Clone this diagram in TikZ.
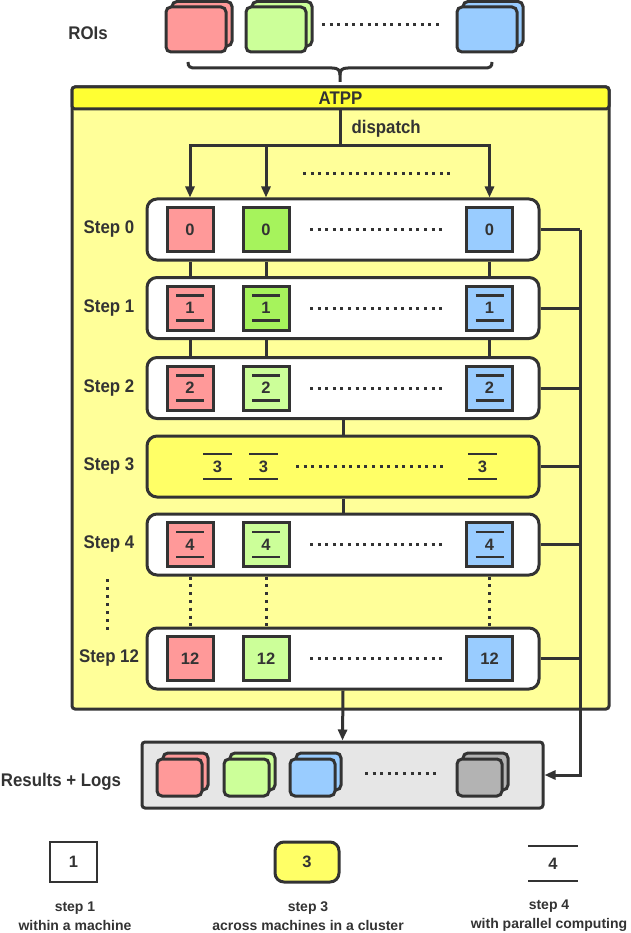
\documentclass[tikz,border=0pt]{standalone}
\usepackage{fontspec}
\setmainfont{Liberation Sans}
\newfontfamily\lblfont{Liberation Sans}[FakeStretch=0.92]
\usetikzlibrary{arrows.meta}
\definecolor{dk}{HTML}{333333}
\definecolor{bodyY}{HTML}{FFFF99}
\definecolor{headY}{HTML}{FFFF33}
\definecolor{sthreeY}{HTML}{FFFF66}
\definecolor{rd}{HTML}{FF9999}
\definecolor{gnA}{HTML}{A6F35C}
\definecolor{gn}{HTML}{CCFF99}
\definecolor{bl}{HTML}{99CCFF}
\definecolor{gy}{HTML}{B3B3B3}
\definecolor{resbg}{HTML}{E6E6E6}
\begin{document}
\begin{tikzpicture}[x=1pt,y=-1pt,
 lbl/.style={font=\lblfont\fontsize{18.3}{20}\selectfont\bfseries, text=dk},
 num/.style={font=\fontsize{16.5}{18}\selectfont\bfseries, text=dk},
 leg/.style={font=\fontsize{14}{19}\selectfont\bfseries, text=dk, align=center},
 stepbox/.style={draw=dk, line width=3, rounded corners=10, fill=white, minimum width=392, minimum height=61, inner sep=0},
 item/.style={draw=dk, line width=3, minimum width=46, minimum height=44, inner sep=0, num},
 conn/.style={draw=dk, line width=3},
 arr/.style={conn, -{Triangle[length=11pt,width=9pt]}},
 dotsl/.style={draw=dk, line width=3, dash pattern=on 3pt off 4.6pt},
 bar/.style={draw=dk, line width=2.6},
 sheet/.style={draw=dk, line width=3, rounded corners=5},
]
\useasboundingbox (0,0) rectangle (630,933);
\fill[white] (0,0) rectangle (630,933);

% ROIs
\node[lbl] (roislbl) at (88,33) {ROIs};
\draw[sheet, fill=rd] (172,1.5) rectangle (232,46);
\draw[sheet, fill=rd] (166,7) rectangle (226,52);
\draw[sheet, fill=gn] (252,1.5) rectangle (312,46);
\draw[sheet, fill=gn] (246,7) rectangle (306,52);
\draw[sheet, fill=bl] (463,1.5) rectangle (523,46);
\draw[sheet, fill=bl] (457,7) rectangle (517,52);
\draw[dotsl] (322,25) -- (442,25);
% brace
\draw[dk, line width=3] (188,62) .. controls (188,67) and (190,68) .. (196,68) -- (332,68) .. controls (338,68) and (340,70) .. (340,75) -- (340,82);
\draw[dk, line width=3] (492,62) .. controls (492,67) and (490,68) .. (484,68) -- (348,68) .. controls (342,68) and (340,70) .. (340,75);

% ATPP
\node[draw=dk, fill=bodyY, line width=3, rounded corners=3, minimum width=537, minimum height=622, inner sep=0] (atpp) at (340.5,398) {};
\node[draw=dk, fill=headY, line width=3, rounded corners=3, minimum width=537, minimum height=22, inner sep=0, lbl] (hdr) at (340.5,98) {ATPP};
\node[lbl, anchor=west] (disp) at (348,128.5) {dispatch};

% step boxes
\node[stepbox] (s0) at (343,229.5) {};
\node[stepbox] (s1) at (343,308) {};
\node[stepbox] (s2) at (343,388) {};
\node[stepbox, fill=sthreeY] (s3) at (343,466.5) {};
\node[stepbox] (s4) at (343,544.5) {};
\node[stepbox] (s12) at (343,658.5) {};

\node[lbl] (l0) at (109,229.5) {Step 0};
\node[lbl] (l1) at (109,308) {Step 1};
\node[lbl] (l2) at (109,388) {Step 2};
\node[lbl] (l3) at (109,466.5) {Step 3};
\node[lbl] (l4) at (109,544.5) {Step 4};
\node[lbl] (l12) at (109,658.5) {Step 12};
\draw[dotsl, dash pattern=on 3pt off 5pt] (107,579) -- (107,632);

% items
\node[item, fill=rd] (r0) at (190,229.5) {0};
\node[item, fill=gnA] (g0) at (266,229.5) {0};
\node[item, fill=bl] (b0) at (489.5,229.5) {0};
\node[item, fill=rd] (r1) at (190,308) {1};
\node[item, fill=gnA] (g1) at (266,308) {1};
\node[item, fill=bl] (b1) at (489.5,308) {1};
\node[item, fill=rd] (r2) at (190,388) {2};
\node[item, fill=gn] (g2) at (266,388) {2};
\node[item, fill=bl] (b2) at (489.5,388) {2};
\node[num] (t1) at (217.5,466.5) {3};
\node[num] (t2) at (263.5,466.5) {3};
\node[num] (t3) at (482.5,466.5) {3};
\node[item, fill=rd] (r4) at (190,544.5) {4};
\node[item, fill=gn] (g4) at (266,544.5) {4};
\node[item, fill=bl] (b4) at (489.5,544.5) {4};
\node[item, fill=rd] (r12) at (190,658.5) {12};
\node[item, fill=gn] (g12) at (266,658.5) {12};
\node[item, fill=bl] (b12) at (489.5,658.5) {12};

\foreach \n in {r1,g1,b1,r2,g2,b2,r4,g4,b4}{
  \draw[bar] ([xshift=-14pt,yshift=12.5pt]\n.center) -- ++(28,0);
  \draw[bar] ([xshift=-14pt,yshift=-12.5pt]\n.center) -- ++(28,0);
}
\foreach \n in {t1,t2,t3}{
  \draw[bar] ([xshift=-14.5pt,yshift=12.5pt]\n.center) -- ++(29,0);
  \draw[bar] ([xshift=-14.5pt,yshift=-12.5pt]\n.center) -- ++(29,0);
}

% dots inside rows
\draw[dotsl] (310,229.5) -- (442,229.5);
\draw[dotsl] (310,308) -- (442,308);
\draw[dotsl] (310,388) -- (442,388);
\draw[dotsl] (296,466.5) -- (444,466.5);
\draw[dotsl] (310,544.5) -- (442,544.5);
\draw[dotsl] (310,658.5) -- (442,658.5);
\draw[dotsl] (303,174) -- (450,174);

% dispatch
\coordinate (dsp) at (340.5,146);
\draw[conn] (hdr.south) -- (dsp);
\draw[arr] (dsp) -| (s0.north -| r0);
\draw[arr] (dsp) -| (s0.north -| g0);
\draw[arr] (dsp) -| (s0.north -| b0);

% step connectors
\foreach \a in {r0,g0,b0}{\draw[conn] (s0.south -| \a) -- (s1.north -| \a);}
\foreach \a in {r1,g1,b1}{\draw[conn] (s1.south -| \a) -- (s2.north -| \a);}
\draw[conn] (s2.south) -- (s3.north);
\draw[conn] (s3.south) -- (s4.north);
\foreach \a in {r4,g4,b4}{\draw[dotsl, dash pattern=on 3pt off 4.8pt] (s4.south -| \a) -- (s12.north -| \a);}

% results
\node[draw=dk, fill=resbg, line width=3, rounded corners=3, minimum width=401, minimum height=66, inner sep=0] (res) at (342.5,775) {};
\node[lbl] (reslbl) at (61,782) {Results + Logs};
\draw[sheet, fill=rd] (163,753) rectangle (208,790);
\draw[sheet, fill=rd] (157,759) rectangle (202,796);
\draw[sheet, fill=gn] (230,753) rectangle (275,790);
\draw[sheet, fill=gn] (224,759) rectangle (269,796);
\draw[sheet, fill=bl] (296,753) rectangle (341,790);
\draw[sheet, fill=bl] (290,759) rectangle (335,796);
\draw[sheet, fill=gy] (463,753) rectangle (508,790);
\draw[sheet, fill=gy] (457,759) rectangle (502,796);
\draw[dotsl] (365,773) -- (440,773);

\draw[arr] (s12.south) -- (res.north);

% right bus
\coordinate (bus) at (580,229.5);
\foreach \s in {s0,s1,s2,s3,s4,s12}{\draw[conn] (\s.east) -- (\s.east -| bus);}
\draw[arr] (bus) |- (res.east);

% legend
\node[draw=dk, line width=2.5, minimum width=47, minimum height=40, inner sep=0, num] (k1) at (73.5,862) {1};
\node[draw=dk, fill=sthreeY, line width=3, rounded corners=9, minimum width=64, minimum height=40, inner sep=0, num] (k3) at (307,862) {3};
\node[num] (k4) at (553,864) {4};
\draw[bar] ([xshift=-25pt,yshift=18pt]k4.center) -- ++(50,0);
\draw[bar] ([xshift=-25pt,yshift=-17pt]k4.center) -- ++(50,0);
\node[leg] (d1) at (75,916) {step 1\\within a machine};
\node[leg] (d3) at (308,916) {step 3\\across machines in a cluster};
\node[leg] (d4) at (549,916) {step 4\\with parallel computing};
\end{tikzpicture}
\end{document}
